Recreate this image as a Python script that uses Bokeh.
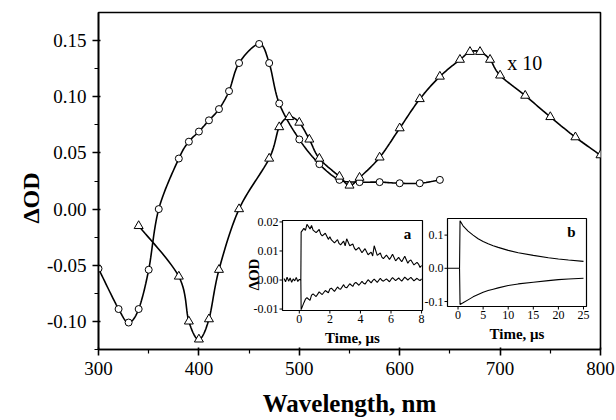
import numpy as np
from bokeh.plotting import figure
from bokeh.models import Range1d, FixedTicker, PrintfTickFormatter, Label, Title
from bokeh.core.properties import value
from bokeh.embed import file_html
from bokeh.resources import INLINE

# ---------------- main spectra ----------------
circ_wl = [300, 320, 330, 340, 350, 360, 380, 390, 400, 410, 420, 430, 440, 460,
           470, 480, 500, 520, 540, 560, 580, 600, 620, 640]
circ_od = [-0.053, -0.089, -0.101, -0.089, -0.054, 0.000, 0.045, 0.060, 0.069,
           0.079, 0.089, 0.105, 0.130, 0.147, 0.130, 0.094, 0.062, 0.040, 0.026,
           0.024, 0.024, 0.023, 0.023, 0.026]

tri_wl = [340, 380, 390, 400, 410, 420, 440, 470, 480, 490, 500, 510, 520, 540,
          550, 560, 580, 600, 620, 640, 660, 670, 680, 690, 700, 725, 750, 775, 800]
tri_od = [-0.015, -0.060, -0.100, -0.116, -0.098, -0.054, 0.000, 0.045, 0.073,
          0.082, 0.077, 0.062, 0.045, 0.029, 0.021, 0.028, 0.046, 0.072, 0.098,
          0.118, 0.133, 0.140, 0.140, 0.133, 0.119, 0.101, 0.082, 0.064, 0.048]

x_ticks = [300, 400, 500, 600, 700, 800]
x_minor = [350, 450, 550, 650, 750]
y_ticks = [-0.10, -0.05, 0.00, 0.05, 0.10, 0.15]
y_minor = [-0.125, -0.075, -0.025, 0.025, 0.075, 0.125]

# ---------------- inset a (kinetics, 8 us) ----------------
a_base_t = [-1.0, -0.9, -0.8, -0.7, -0.6, -0.5, -0.4, -0.3, -0.2, -0.1, 0.0, 0.1]
a_base_v = [0.0005, -0.0006, 0.0010, -0.0004, 0.0007, -0.0008, 0.0004, -0.0003,
            0.0009, -0.0005, 0.0002, 0.0000]
a_up_t = [0.12, 0.3, 0.4, 0.5, 0.7, 0.8, 0.9, 1.1, 1.3, 1.4, 1.5, 1.7, 1.9, 2.0,
          2.1, 2.3, 2.5, 2.6, 2.7, 2.9, 3.0, 3.1, 3.3, 3.5, 3.6, 3.7, 3.9, 4.1,
          4.2, 4.3, 4.5, 4.7, 4.8, 4.9, 5.1, 5.3, 5.4, 5.5, 5.7, 5.9, 6.0, 6.1,
          6.3, 6.5, 6.6, 6.7, 6.9, 7.1, 7.2, 7.3, 7.5, 7.7, 7.8, 7.9, 8.0]
a_up_v = [0.0165, 0.0178, 0.0171, 0.0192, 0.0176, 0.0188, 0.0172, 0.0163, 0.0174,
          0.0158, 0.0152, 0.0161, 0.0140, 0.0149, 0.0138, 0.0128, 0.0139, 0.0126,
          0.0121, 0.0134, 0.0118, 0.0142, 0.0118, 0.0124, 0.0110, 0.0103, 0.0112,
          0.0094, 0.0101, 0.0108, 0.0087, 0.0096, 0.0083, 0.0118, 0.0085, 0.0093,
          0.0079, 0.0074, 0.0086, 0.0071, 0.0079, 0.0089, 0.0066, 0.0078, 0.0070,
          0.0063, 0.0082, 0.0058, 0.0066, 0.0069, 0.0052, 0.0061, 0.0055, 0.0043,
          0.0050]
a_dn_t = [0.1, 0.12, 0.3, 0.4, 0.5, 0.7, 0.8, 0.9, 1.1, 1.3, 1.4, 1.5, 1.7, 1.9,
          2.0, 2.1, 2.3, 2.5, 2.6, 2.7, 2.9, 3.0, 3.1, 3.3, 3.5, 3.6, 3.7, 3.9,
          4.1, 4.2, 4.3, 4.5, 4.7, 4.8, 4.9, 5.1, 5.3, 5.4, 5.5, 5.7, 5.9, 6.0,
          6.1, 6.3, 6.5, 6.6, 6.7, 6.9, 7.1, 7.2, 7.3, 7.5, 7.7, 7.8, 7.9, 8.0]
a_dn_v = [0.0000, -0.0102, -0.0078, -0.0066, -0.0061, -0.0070, -0.0052, -0.0048,
          -0.0057, -0.0041, -0.0046, -0.0050, -0.0036, -0.0044, -0.0031, -0.0028,
          -0.0039, -0.0024, -0.0030, -0.0032, -0.0016, -0.0025, -0.0027, -0.0013,
          -0.0022, -0.0012, -0.0008, -0.0018, -0.0005, -0.0011, -0.0014, 0.0001,
          -0.0010, -0.0002, 0.0003, -0.0008, 0.0006, -0.0001, -0.0004, 0.0004,
          -0.0006, 0.0002, 0.0008, -0.0002, 0.0007, 0.0001, -0.0004, 0.0010,
          0.0000, 0.0005, 0.0009, -0.0003, 0.0006, 0.0001, -0.0002, 0.0004]
a_xticks = [0, 2, 4, 6, 8]
a_xlabels = ["0", "2", "4", "6", "8"]
a_yticks = [-0.01, 0.00, 0.01, 0.02]
a_ylabels = ["-0.01", "0.00", "0.01", "0.02"]

# ---------------- inset b (kinetics, 25 us) ----------------
b_up_t = [-2.0, 0.3, 0.4, 1, 2, 3, 4, 5, 6, 7, 8, 10, 12, 15, 18, 20, 22, 25]
b_up_v = [0.0, 0.0, 0.143, 0.128, 0.112, 0.100, 0.089, 0.081, 0.074, 0.068,
          0.063, 0.054, 0.047, 0.039, 0.032, 0.028, 0.025, 0.021]
b_dn_t = [0.3, 0.4, 1, 2, 3, 4, 5, 6, 7, 8, 10, 12, 15, 18, 20, 22, 25]
b_dn_v = [0.0, -0.109, -0.104, -0.095, -0.086, -0.079, -0.072, -0.067, -0.063,
          -0.059, -0.052, -0.047, -0.042, -0.037, -0.034, -0.032, -0.030]
b_xticks = [0, 5, 10, 15, 20, 25]
b_xlabels = ["0", "5", "10", "15", "20", "25"]
b_yticks = [-0.1, 0.0, 0.1]
b_ylabels = ["-0.1", "0.0", "0.1"]

SERIF = "Liberation Serif"


def smooth(xs, ys, n=14):
    P = [(xs[0], ys[0])] + list(zip(xs, ys)) + [(xs[-1], ys[-1])]
    ox, oy = [], []
    for i in range(1, len(P) - 2):
        p0, p1, p2, p3 = (np.array(P[i - 1]), np.array(P[i]),
                          np.array(P[i + 1]), np.array(P[i + 2]))
        for t in np.linspace(0, 1, n, endpoint=False):
            q = 0.5 * (2 * p1 + (-p0 + p2) * t + (2 * p0 - 5 * p1 + 4 * p2 - p3) * t * t
                       + (-p0 + 3 * p1 - 3 * p2 + p3) * t ** 3)
            ox.append(q[0]); oy.append(q[1])
    ox.append(xs[-1]); oy.append(ys[-1])
    return ox, oy


# frame in pixels
FL, FR, FT, FB = 98, 600, 12, 349
W, H = 616, 420

p = figure(width=W, height=H, x_range=Range1d(300, 800), y_range=Range1d(-0.125, 0.175),
           output_backend="svg", toolbar_location=None, title=None,
           min_border_left=FL, min_border_right=W - FR, min_border_top=FT,
           min_border_bottom=H - FB)
p.grid.visible = False
p.outline_line_color = "black"
p.outline_line_width = 1.6
p.outline_line_alpha = 1.0
p.background_fill_color = "white"
p.border_fill_color = "white"

for ax in (p.xaxis[0], p.yaxis[0]):
    ax.axis_line_width = 1.6
    ax.major_tick_line_width = 1.6
    ax.minor_tick_line_width = 1.2
    ax.major_tick_out = 6
    ax.major_tick_in = 2
    ax.minor_tick_out = 4
    ax.minor_tick_in = 0
    ax.major_label_text_font = SERIF
    ax.major_label_text_font_size = "19px"
    ax.major_label_text_color = "black"
    ax.axis_label_text_font = SERIF
    ax.axis_label_text_font_style = "bold"
    ax.axis_label_text_font_size = "25px"
    ax.axis_label_text_color = "black"

p.xaxis.ticker = FixedTicker(ticks=x_ticks, minor_ticks=x_minor)
p.yaxis.ticker = FixedTicker(ticks=y_ticks, minor_ticks=y_minor)
p.yaxis.formatter = PrintfTickFormatter(format="%.2f")
p.xaxis.axis_label = "Wavelength, nm"
p.xaxis.major_label_standoff = 6
p.xaxis.axis_label_standoff = 12
p.yaxis.major_label_standoff = 6

# y-axis title, sits a little below the frame centre as in the original
p.add_layout(Title(text="ΔOD", align="left", offset=126, standoff=0,
                   text_font=SERIF, text_font_style="bold", text_font_size="24px",
                   text_color="black"), "left")

cx, cy = smooth(circ_wl, circ_od)
tx, ty = smooth(tri_wl, tri_od)
p.line(tx, ty, line_color="black", line_width=1.6)
p.line(cx, cy, line_color="black", line_width=1.6)
p.scatter(circ_wl, circ_od, marker="circle", size=7, fill_color="white",
          line_color="black", line_width=1)
p.scatter(tri_wl, tri_od, marker="triangle", size=9, fill_color="white",
          line_color="black", line_width=1)

p.add_layout(Label(x=707, y=0.130, text="x 10", text_font=SERIF, text_font_size="20px",
                   text_baseline="middle", text_color="black"))


def add_inset(name, box, xlim, ylim, xticks, xlabels, yticks, ylabels, traces, tag, ylabel):
    l, t, r, b = box
    sx = (xlim[1] - xlim[0]) / (r - l)   # data per px
    sy = (ylim[1] - ylim[0]) / (b - t)
    p.extra_x_ranges[name] = Range1d(xlim[0] + (FL - l) * sx, xlim[0] + (FR - l) * sx)
    p.extra_y_ranges[name] = Range1d(ylim[0] + (b - FB) * sy, ylim[0] + (b - FT) * sy)
    kw = dict(x_range_name=name, y_range_name=name)
    p.quad(left=[xlim[0]], right=[xlim[1]], bottom=[ylim[0]], top=[ylim[1]],
           fill_color="white", line_color=None, **kw)
    for tt, vv in traces:
        p.line(tt, vv, line_color="black", line_width=1.1, **kw)
    p.quad(left=[xlim[0]], right=[xlim[1]], bottom=[ylim[0]], top=[ylim[1]],
           fill_alpha=0, line_color="black", line_width=1.2, **kw)
    tl = 3
    p.segment(x0=xticks, x1=xticks, y0=[ylim[0]] * len(xticks),
              y1=[ylim[0] - tl * sy] * len(xticks), line_color="black", line_width=1, **kw)
    p.segment(x0=[xlim[0]] * len(yticks), x1=[xlim[0] - tl * sx] * len(yticks),
              y0=yticks, y1=yticks, line_color="black", line_width=1, **kw)
    p.text(x=xticks, y=[ylim[0]] * len(xticks), text=xlabels, y_offset=4,
           text_align="center", text_baseline="top", text_font=value(SERIF),
           text_font_size="12px", text_color="black", **kw)
    p.text(x=[xlim[0]] * len(yticks), y=yticks, text=ylabels, x_offset=-4,
           text_align="right", text_baseline="middle", text_font=value(SERIF),
           text_font_size="12px", text_color="black", **kw)
    p.text(x=[(xlim[0] + xlim[1]) / 2], y=[ylim[0]], text=["Time, μs"], y_offset=19,
           text_align="center", text_baseline="top", text_font=value(SERIF),
           text_font_style="bold", text_font_size="15px", text_color="black", **kw)
    p.text(x=[xlim[1]], y=[ylim[1]], text=[tag], x_offset=-15, y_offset=13,
           text_align="center", text_baseline="middle", text_font=value(SERIF),
           text_font_style="bold", text_font_size="15px", text_color="black", **kw)
    if ylabel:
        p.text(x=[xlim[0]], y=[(ylim[0] + ylim[1]) / 2], text=[ylabel], x_offset=-29,
               y_offset=9, angle=np.pi / 2, text_align="center", text_baseline="middle",
               text_font=value(SERIF), text_font_style="bold", text_font_size="15px",
               text_color="black", **kw)


add_inset("a", (282, 220, 422, 310), (-1.1, 8.06), (-0.0105, 0.0205),
          a_xticks, a_xlabels, a_yticks, a_ylabels,
          [(a_base_t + a_up_t, a_base_v + a_up_v), (a_dn_t, a_dn_v)], "a", "ΔOD")
add_inset("b", (447, 218, 586, 306), (-2.1, 25.6), (-0.115, 0.15),
          b_xticks, b_xlabels, b_yticks, b_ylabels,
          [(b_up_t, b_up_v), (b_dn_t, b_dn_v)], "b", None)

open("out.html", "w").write(file_html(p, INLINE))
